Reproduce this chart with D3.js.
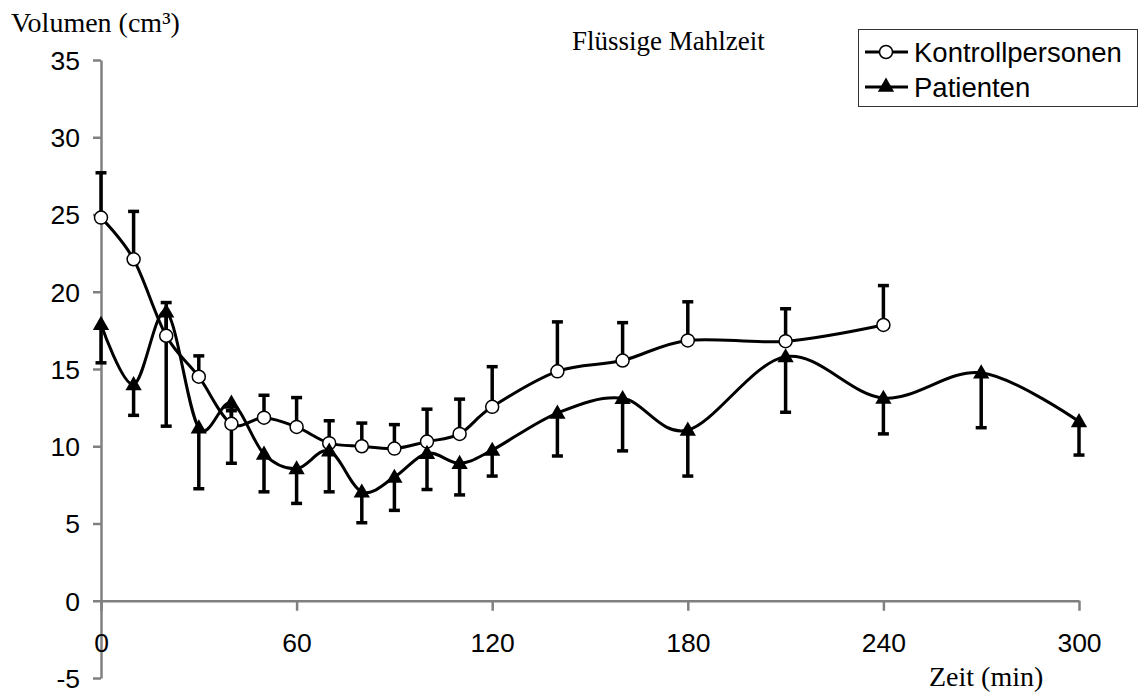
<!DOCTYPE html>
<html>
<head>
<meta charset="utf-8">
<script src="https://cdn.jsdelivr.net/npm/d3@7"></script>
<style>
  body { margin: 0; background: #fff; }
  .axis text { font-family: "Liberation Sans", Arial, sans-serif; font-size: 26.5px; fill: #000; }
  .axis path, .axis line { stroke: #808080; stroke-width: 2.5; }
  .serif { font-family: "Liberation Serif", "Times New Roman", serif; font-size: 27px; }
</style>
</head>
<body>
<div class="chart"></div>
<script>
// times (min)
const timesKontroll = [0, 10, 20, 30, 40, 50, 60, 70, 80, 90, 100, 110, 120, 140, 160, 180, 210, 240];
const timesPatienten = [0, 10, 20, 30, 40, 50, 60, 70, 80, 90, 100, 110, 120, 140, 160, 180, 210, 240, 270, 300];

// volume means (cm³)
const kontroll = [24.8, 22.1, 17.15, 14.5, 11.45, 11.85, 11.25, 10.2, 10.0, 9.85, 10.3, 10.8, 12.55, 14.85, 15.55, 16.85, 16.8, 17.85];
const patienten = [17.9, 14.0, 18.7, 11.2, 12.8, 9.5, 8.55, 9.7, 7.05, 8.0, 9.55, 8.9, 9.75, 12.15, 13.1, 11.05, 15.8, 13.12, 14.76, 11.6];

// error bar lengths (controls up, patients down)
const kontrollErr = [2.9, 3.1, 2.15, 1.35, 0.85, 1.45, 1.9, 1.45, 1.5, 1.55, 2.1, 2.25, 2.6, 3.2, 2.45, 2.5, 2.1, 2.55];
const patientenErr = [2.5, 2.0, 7.4, 3.95, 3.9, 2.45, 2.25, 2.65, 2.0, 2.15, 2.35, 2.05, 1.68, 2.78, 3.4, 2.98, 3.6, 2.32, 3.56, 2.17];

const xTicks = [0, 60, 120, 180, 240, 300];
const yTicks = [-5, 0, 5, 10, 15, 20, 25, 30, 35];

const width = 1143, height = 695;

const svg = d3.select('.chart').append('svg')
    .attr("width", width)
    .attr("height", height);

const x = d3.scaleLinear().domain([0, 300]).range([101, 1079]);
const y = d3.scaleLinear().domain([-5, 35]).range([678, 60]);

// y axis
svg.append("g")
    .attr("class", "axis")
    .attr("transform", `translate(${x(0)},0)`)
    .call(d3.axisLeft(y).tickValues(yTicks).tickFormat(d => String(d))
        .tickSize(8).tickSizeOuter(0).tickPadding(13))
    .call(g => g.selectAll(".tick text").attr("dy", "0.35em"));

// x axis at y = 0
svg.append("g")
    .attr("class", "axis")
    .attr("transform", `translate(0,${y(0)})`)
    .call(d3.axisBottom(x).tickValues(xTicks).tickFormat(d => String(d))
        .tickSize(10).tickSizeOuter(0).tickPadding(22));

const kData = timesKontroll.map((t, i) => ({t, v: kontroll[i], e: kontrollErr[i]}));
const pData = timesPatienten.map((t, i) => ({t, v: patienten[i], e: patientenErr[i]}));

// error bars
function errorBars(data, dir) {
  const g = svg.append("g").attr("stroke", "#000").attr("stroke-width", 3.5);
  g.selectAll(".eb").data(data).enter().append("line")
      .attr("x1", d => x(d.t)).attr("x2", d => x(d.t))
      .attr("y1", d => y(d.v))
      .attr("y2", d => y(d.v + dir * d.e));
  g.selectAll(".cap").data(data).enter().append("line")
      .attr("x1", d => x(d.t) - 5.5).attr("x2", d => x(d.t) + 5.5)
      .attr("y1", d => y(d.v + dir * d.e))
      .attr("y2", d => y(d.v + dir * d.e));
}
errorBars(kData, 1);
errorBars(pData, -1);

const line = d3.line()
    .curve(d3.curveCardinal.tension(0))
    .x(d => x(d.t))
    .y(d => y(d.v));

[kData, pData].forEach(data => {
  svg.append("path")
      .datum(data)
      .attr("fill", "none")
      .attr("stroke", "#000")
      .attr("stroke-width", 3)
      .attr("stroke-linejoin", "round")
      .attr("d", line);
});

const tri = d3.symbol().type(d3.symbolTriangle).size(115);

svg.append("g").selectAll("circle").data(kData).enter().append("circle")
    .attr("cx", d => x(d.t))
    .attr("cy", d => y(d.v))
    .attr("r", 6.5)
    .attr("fill", "#fff")
    .attr("stroke", "#000")
    .attr("stroke-width", 1.5);

svg.append("g").selectAll("path").data(pData).enter().append("path")
    .attr("transform", d => `translate(${x(d.t)},${y(d.v) + 1})`)
    .attr("d", tri)
    .attr("fill", "#000");

// titles
svg.append("text").attr("class", "serif")
    .attr("x", 11).attr("y", 32)
    .attr("font-size", "28px")
    .style("font-size", "28px")
    .text("Volumen (cm³)");

svg.append("text").attr("class", "serif")
    .attr("x", 572).attr("y", 50)
    .text("Flüssige Mahlzeit");

svg.append("text").attr("class", "serif")
    .attr("x", 929).attr("y", 686)
    .style("font-size", "28px")
    .text("Zeit (min)");

// legend
const legend = svg.append("g");
legend.append("rect")
    .attr("x", 858.5).attr("y", 29.5)
    .attr("width", 279).attr("height", 77)
    .attr("fill", "#fff")
    .attr("stroke", "#333")
    .attr("stroke-width", 1);

const legendItems = ["Kontrollpersonen", "Patienten"];
legendItems.forEach((name, i) => {
  const cy = 52 + i * 35;
  legend.append("line")
      .attr("x1", 865).attr("x2", 908)
      .attr("y1", cy).attr("y2", cy)
      .attr("stroke", "#000").attr("stroke-width", 3);
  if (i === 0) {
    legend.append("circle")
        .attr("cx", 886).attr("cy", cy).attr("r", 6.5)
        .attr("fill", "#fff").attr("stroke", "#000").attr("stroke-width", 1.5);
  } else {
    legend.append("path")
        .attr("transform", `translate(886,${cy})`)
        .attr("d", tri).attr("fill", "#000");
  }
  legend.append("text")
      .attr("x", 914).attr("y", cy + 9.5)
      .attr("font-family", '"Liberation Sans", Arial, sans-serif')
      .attr("font-size", "27.5px")
      .text(name);
});
</script>
</body>
</html>
